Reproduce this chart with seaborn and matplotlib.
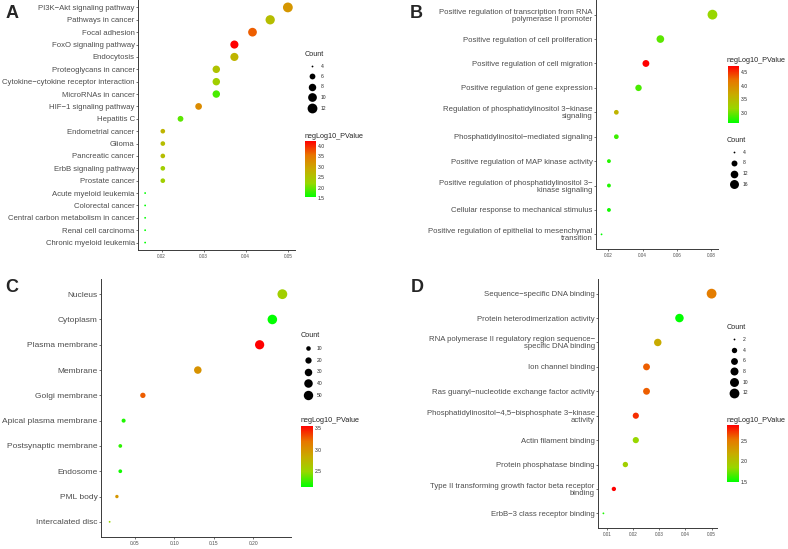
import matplotlib
matplotlib.use("Agg")
import numpy as np
import pandas as pd
import matplotlib.pyplot as plt
import seaborn as sns
from matplotlib.colors import LinearSegmentedColormap, Normalize
from matplotlib.lines import Line2D
from matplotlib.ticker import FormatStrFormatter

# A: KEGG pathways
a_terms = ["PI3K−Akt signaling pathway", "Pathways in cancer", "Focal adhesion",
           "FoxO signaling pathway", "Endocytosis", "Proteoglycans in cancer",
           "Cytokine−cytokine receptor interaction", "MicroRNAs in cancer",
           "HIF−1 signaling pathway", "Hepatitis C", "Endometrial cancer", "Glioma",
           "Pancreatic cancer", "ErbB signaling pathway", "Prostate cancer",
           "Acute myeloid leukemia", "Colorectal cancer",
           "Central carbon metabolism in cancer", "Renal cell carcinoma",
           "Chronic myeloid leukemia"]
a_ratio = [0.0500, 0.0458, 0.0416, 0.0373, 0.0373, 0.0330, 0.0330, 0.0330, 0.0288, 0.0245,
           0.0203, 0.0203, 0.0203, 0.0203, 0.0203, 0.0161, 0.0161, 0.0161, 0.0161, 0.0161]
a_count = [12, 11, 10, 9, 9, 8, 8, 8, 7, 6, 5, 5, 5, 5, 5, 4, 4, 4, 4, 4]
a_logp = [3.15, 2.61, 3.69, 4.23, 2.75, 2.53, 2.34, 1.85, 3.29, 1.94,
          2.75, 2.61, 2.61, 2.34, 2.34, 1.53, 1.53, 1.53, 1.53, 1.53]
a_xticks = [0.02, 0.03, 0.04, 0.05]
a_size_breaks = [4, 6, 8, 10, 12]
a_color_breaks = [1.5, 2.0, 2.5, 3.0, 3.5, 4.0]

# B: biological process
b_terms = ["Positive regulation of transcription from RNA\npolymerase II promoter",
           "Positive regulation of cell proliferation",
           "Positive regulation of cell migration",
           "Positive regulation of gene expression",
           "Regulation of phosphatidylinositol 3−kinase\nsignaling",
           "Phosphatidylinositol−mediated signaling",
           "Positive regulation of MAP kinase activity",
           "Positive regulation of phosphatidylinositol 3−\nkinase signaling",
           "Cellular response to mechanical stimulus",
           "Positive regulation of epithelial to mesenchymal\ntransition"]
b_ratio = [0.0806, 0.0503, 0.0419, 0.0376, 0.0247, 0.0247, 0.0204, 0.0204, 0.0204, 0.0161]
b_count = [19, 12, 10, 9, 6, 6, 5, 5, 5, 4]
b_logp = [3.16, 2.95, 4.74, 2.88, 3.58, 2.84, 2.76, 2.74, 2.69, 2.63]
b_xticks = [0.02, 0.04, 0.06, 0.08]
b_size_breaks = [4, 8, 12, 16]
b_color_breaks = [3.0, 3.5, 4.0, 4.5]

# C: cellular component
c_terms = ["Nucleus", "Cytoplasm", "Plasma membrane", "Membrane", "Golgi membrane",
           "Apical plasma membrane", "Postsynaptic membrane", "Endosome", "PML body",
           "Intercalated disc"]
c_ratio = [0.2368, 0.2241, 0.2080, 0.1297, 0.0601, 0.0357, 0.0315, 0.0315, 0.0272, 0.0180]
c_count = [55, 52, 48, 30, 14, 8, 7, 7, 6, 4]
c_logp = [2.55, 2.12, 3.555, 3.01, 3.27, 2.19, 2.23, 2.16, 2.98, 2.48]
c_xticks = [0.05, 0.10, 0.15, 0.20]
c_size_breaks = [10, 20, 30, 40, 50]
c_color_breaks = [2.5, 3.0, 3.5]

# D: molecular function
d_terms = ["Sequence−specific DNA binding", "Protein heterodimerization activity",
           "RNA polymerase II regulatory region sequence−\nspecific DNA binding",
           "Ion channel binding", "Ras guanyl−nucleotide exchange factor activity",
           "Phosphatidylinositol−4,5−bisphosphate 3−kinase\nactivity",
           "Actin filament binding", "Protein phosphatase binding",
           "Type II transforming growth factor beta receptor\nbinding",
           "ErbB−3 class receptor binding"]
d_ratio = [0.0500, 0.0377, 0.0294, 0.0251, 0.0251, 0.0210, 0.0210, 0.0170, 0.0126, 0.0086]
d_count = [12, 9, 7, 6, 6, 5, 5, 4, 3, 2]
d_logp = [2.49, 1.50, 2.19, 2.60, 2.60, 2.74, 1.85, 1.91, 2.88, 1.57]
d_xticks = [0.01, 0.02, 0.03, 0.04, 0.05]
d_size_breaks = [2, 4, 6, 8, 10, 12]
d_color_breaks = [1.5, 2.0, 2.5]

sns.set_style("ticks")
plt.rcParams["font.family"] = ["Liberation Sans", "DejaVu Sans"]

W, H = 788, 549
fig = plt.figure(figsize=(W / 100, H / 100), dpi=100)


def rect(x0, y0, x1, y1):
    return [x0 / W, 1 - y1 / H, (x1 - x0) / W, (y1 - y0) / H]


# ggplot-like green -> red gradient
cmap = LinearSegmentedColormap.from_list(
    "gg", ["#00FF00", "#98D700", "#C8AB00", "#E87600", "#FF0000"])


def dot_px(c, lo, hi):
    return 1.8 + 8.0 * np.sqrt((c - lo) / (hi - lo))


# layout in pixels: axes box, letter, size legend anchor, colorbar box
layout = {
    "A": dict(ax=(138, 0, 295, 250), letter=(6, 13), fs=5.6, xfs=3.3,
              leg=(305, 51), lsp=1.1, cbar=(305, 141, 316, 198), ctitle=(305, 136)),
    "B": dict(ax=(596, 0, 718, 249), letter=(410, 13), fs=5.6, xfs=3.3,
              leg=(727, 137), lsp=1.15, cbar=(728, 66, 739, 123), ctitle=(727, 60)),
    "C": dict(ax=(101, 279, 291, 537), letter=(5, 288), fs=6.0, xfs=3.5,
              leg=(301, 332), lsp=1.35, cbar=(301, 426, 313, 487), ctitle=(301, 421)),
    "D": dict(ax=(598, 279, 717, 528), letter=(411, 287), fs=5.6, xfs=3.3,
              leg=(727, 324), lsp=1.15, cbar=(727, 425, 739, 482), ctitle=(727, 420)),
}

panels = [
    ("A", a_terms, a_ratio, a_count, a_logp, a_xticks, a_size_breaks, a_color_breaks),
    ("B", b_terms, b_ratio, b_count, b_logp, b_xticks, b_size_breaks, b_color_breaks),
    ("C", c_terms, c_ratio, c_count, c_logp, c_xticks, c_size_breaks, c_color_breaks),
    ("D", d_terms, d_ratio, d_count, d_logp, d_xticks, d_size_breaks, d_color_breaks),
]

for letter, terms, ratio, count, logp, xticks, size_breaks, color_breaks in panels:
    lay = layout[letter]
    ax = fig.add_axes(rect(*lay["ax"]))
    df = pd.DataFrame({"term": terms, "ratio": ratio, "Count": count,
                       "negLog10_PValue": logp})
    lo, hi = min(count), max(count)
    sizes = {c: (dot_px(c, lo, hi) * 0.72) ** 2 for c in sorted(set(count))}
    norm = Normalize(min(logp), max(logp))
    sns.scatterplot(data=df, x="ratio", y="term", hue="negLog10_PValue", palette=cmap,
                    hue_norm=norm, size="Count", sizes=sizes, linewidth=0,
                    legend=False, ax=ax)

    n = len(terms)
    span = max(ratio) - min(ratio)
    ax.set_xlim(min(ratio) - 0.05 * span, max(ratio) + 0.05 * span)
    ax.set_ylim(n - 0.4, -0.6)
    ax.set_yticks(range(n))
    ax.set_yticklabels(terms, linespacing=1.0)
    ax.set_xticks(xticks)
    ax.xaxis.set_major_formatter(FormatStrFormatter("%.2f"))
    ax.set_xlabel("")
    ax.set_ylabel("")
    sns.despine(ax=ax)
    for s in ["left", "bottom"]:
        ax.spines[s].set_color("#3a3a3a")
        ax.spines[s].set_linewidth(0.7)
    ax.tick_params(axis="y", labelsize=lay["fs"], labelcolor="#4d4d4d", length=1.8,
                   width=0.5, color="#3a3a3a", pad=0.6)
    ax.tick_params(axis="x", labelsize=lay["xfs"], labelcolor="#4d4d4d", length=1.5,
                   width=0.5, color="#3a3a3a", pad=1.5)

    # panel letter
    lx, ly = lay["letter"]
    fig.text(lx / W, 1 - ly / H, letter, fontsize=13, fontweight="bold",
             ha="left", va="center")

    # size legend
    handles = [Line2D([], [], marker="o", ls="", color="black", markeredgewidth=0,
                      markersize=dot_px(b, lo, hi) * 0.72) for b in size_breaks]
    gx, gy = lay["leg"]
    ax.legend(handles, [str(b) for b in size_breaks], title="Count", loc="upper left",
              bbox_to_anchor=(gx / W, 1 - gy / H), bbox_transform=fig.transFigure,
              frameon=False, fontsize=3.6, title_fontsize=5.25,
              labelspacing=lay["lsp"], handlelength=2.9, handletextpad=0.25,
              borderpad=0, borderaxespad=0, alignment="left")

    # colour bar
    cax = fig.add_axes(rect(*lay["cbar"]))
    cb = fig.colorbar(plt.cm.ScalarMappable(norm=norm, cmap=cmap), cax=cax)
    cb.outline.set_visible(False)
    cb.set_ticks(color_breaks)
    cax.yaxis.set_major_formatter(FormatStrFormatter("%.1f"))
    cax.tick_params(labelsize=3.6, length=2.2, width=0.5, color="white",
                    direction="in", pad=1.5)
    tx, ty = lay["ctitle"]
    fig.text(tx / W, 1 - ty / H, "negLog10_PValue", fontsize=5.25,
             ha="left", va="center")

fig.savefig("out.png", dpi=100)
